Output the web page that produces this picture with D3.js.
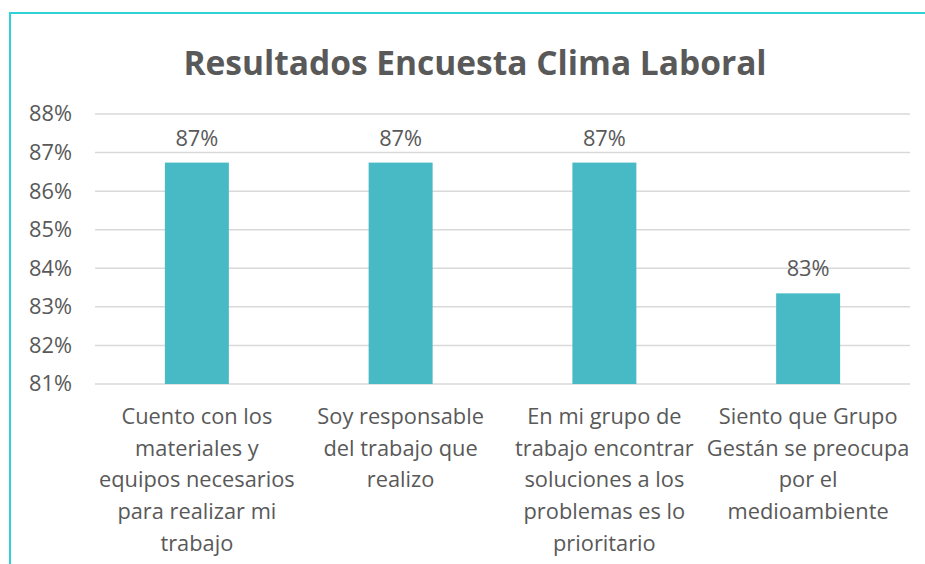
<!DOCTYPE html>
<html><head><meta charset="utf-8">
<script src="https://cdn.jsdelivr.net/npm/d3@7"></script>
<style>body{margin:0;background:#fff}svg{display:block}</style>
</head><body>
<script>
const categories = [
  "Cuento con los materiales y equipos necesarios para realizar mi trabajo",
  "Soy responsable del trabajo que realizo",
  "En mi grupo de trabajo encontrar soluciones a los problemas es lo prioritario",
  "Siento que Grupo Gestán se preocupa por el medioambiente"
];
const categoryLines = [
  ["Cuento con los","materiales y","equipos necesarios","para realizar mi","trabajo"],
  ["Soy responsable","del trabajo que","realizo"],
  ["En mi grupo de","trabajo encontrar","soluciones a los","problemas es lo","prioritario"],
  ["Siento que Grupo","Gestán se preocupa","por el","medioambiente"]
];
const values = [0.8674, 0.8674, 0.8674, 0.8335];
const valueLabels = ["87%","87%","87%","83%"];
const yTicks = [0.81,0.82,0.83,0.84,0.85,0.86,0.87,0.88];
const title = "Resultados Encuesta Clima Laboral";

const W=925,H=564;
const svg=d3.select("body").append("svg").attr("width",W).attr("height",H);
const font="'Open Sans', 'Noto Sans', sans-serif";
const txt="#595959";
const fs=21.8;

// frame (top + left border)
svg.append("path").attr("d",`M10,${H} V13 H${W}`).attr("fill","none").attr("stroke","#2fd0d8").attr("stroke-width",2);

const x=d3.scaleBand().domain(d3.range(categories.length)).range([95,910]).paddingInner(0.686).paddingOuter(0.343);
const y=d3.scaleLinear().domain([0.81,0.88]).range([384,114]);

svg.append("text").attr("x",475).attr("y",75).attr("text-anchor","middle")
  .attr("font-family",font).attr("font-weight","bold").attr("font-size",33.5).attr("fill",txt).text(title);

// gridlines
svg.append("g").selectAll("line").data(yTicks).join("line")
  .attr("x1",95).attr("x2",910).attr("y1",d=>y(d)).attr("y2",d=>y(d))
  .attr("stroke","#d9d9d9").attr("stroke-width",1.5);
const yAxis=d3.axisLeft(y).tickValues(yTicks).tickFormat(d3.format(".0%")).tickSize(0).tickPadding(23);
const gy=svg.append("g").attr("transform","translate(95,0)").call(yAxis);
gy.select(".domain").remove();
gy.selectAll("text").attr("font-family",font).attr("font-size",fs).attr("fill",txt);

svg.append("g").selectAll("rect").data(values).join("rect")
  .attr("x",(d,i)=>x(i)).attr("width",x.bandwidth())
  .attr("y",d=>y(d)).attr("height",d=>y(0.81)-y(d)).attr("fill","#48bac5");

svg.append("g").selectAll("text").data(values).join("text")
  .attr("x",(d,i)=>x(i)+x.bandwidth()/2).attr("y",d=>y(d)-17)
  .attr("text-anchor","middle").attr("font-family",font).attr("font-size",fs).attr("fill",txt)
  .text((d,i)=>valueLabels[i]);

const xAxis=d3.axisBottom(x).tickSize(0).tickFormat("");
svg.append("g").attr("transform","translate(0,384)").call(xAxis).select(".domain").remove();

const cl=svg.append("g");
categoryLines.forEach((lines,i)=>{
  const t=cl.append("text").attr("text-anchor","middle").attr("font-family",font).attr("font-size",fs).attr("fill",txt);
  lines.forEach((l,j)=>t.append("tspan").attr("x",x(i)+x.bandwidth()/2).attr("y",424+j*31.7).text(l));
});
</script>
</body></html>
